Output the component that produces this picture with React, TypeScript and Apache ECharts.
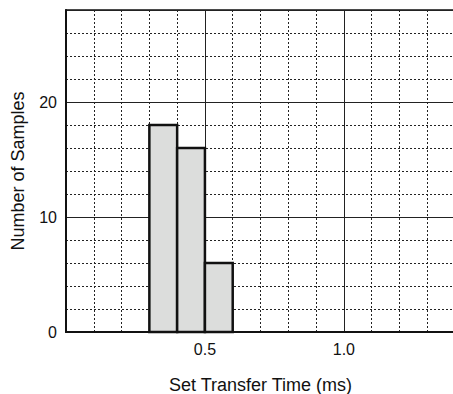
import React, { useEffect, useRef } from "react";
import * as echarts from "echarts";

const binStarts = [0.3, 0.4, 0.5];
const binEnds = [0.4, 0.5, 0.6];
const counts = [18, 16, 6];
const xTickLabels = ["0.5", "1.0"];
const yTickLabels = ["0", "10", "20"];

const FONT = "Liberation Sans, Arial, Helvetica, sans-serif";

export default function App() {
  const ref = useRef<HTMLDivElement>(null);
  useEffect(() => {
    if (!ref.current) return;
    const chart = echarts.init(ref.current, null, { renderer: "svg" });
    const data = counts.map((c, i) => [binStarts[i], binEnds[i], c]);
    const fmtX = (v: number) => {
      const s = v.toFixed(1);
      return xTickLabels.includes(s) ? s : "";
    };
    const fmtY = (v: number) => {
      const s = String(Math.round(v));
      return yTickLabels.includes(s) ? s : "";
    };
    chart.setOption({
      animation: false,
      grid: {
        left: 66,
        top: 10,
        right: -2,
        bottom: 62,
        show: true,
        borderColor: "#111",
        borderWidth: 1.5,
        containLabel: false,
        outerBoundsMode: "none",
      },
      xAxis: [
        {
          type: "value",
          min: 0,
          max: 1.4,
          interval: 0.5,
          position: "bottom",
          axisLine: { show: true, onZero: false, lineStyle: { color: "#111", width: 2 } },
          axisTick: { show: false },
          axisLabel: { color: "#111", fontSize: 16, fontFamily: FONT, margin: 9, formatter: fmtX },
          splitLine: { show: true, lineStyle: { color: "#222", width: 1, type: "solid" } },
          name: "Set Transfer Time (ms)",
          nameLocation: "middle",
          nameGap: 44,
          nameTextStyle: { color: "#111", fontSize: 18, fontFamily: FONT },
          z: 3,
        },
        {
          type: "value",
          min: 0,
          max: 1.4,
          interval: 0.1,
          position: "bottom",
          axisLine: { show: false },
          axisTick: { show: false },
          axisLabel: { show: false },
          splitLine: { show: true, lineStyle: { color: "#222", width: 1, type: [2, 2] } },
          z: 1,
        },
      ],
      yAxis: [
        {
          type: "value",
          min: 0,
          max: 28,
          interval: 10,
          position: "left",
          axisLine: { show: true, lineStyle: { color: "#111", width: 2 } },
          axisTick: { show: false },
          axisLabel: { color: "#111", fontSize: 16, fontFamily: FONT, margin: 9, formatter: fmtY },
          splitLine: { show: true, lineStyle: { color: "#222", width: 1, type: "solid" } },
          name: "Number of Samples",
          nameLocation: "middle",
          nameGap: 39,
          nameTextStyle: { color: "#111", fontSize: 18, fontFamily: FONT },
          z: 3,
        },
        {
          type: "value",
          min: 0,
          max: 28,
          interval: 2,
          position: "left",
          axisLine: { show: false },
          axisTick: { show: false },
          axisLabel: { show: false },
          splitLine: { show: true, lineStyle: { color: "#222", width: 1, type: [2, 2] } },
          z: 1,
        },
      ],
      series: [
        {
          type: "custom",
          xAxisIndex: 0,
          yAxisIndex: 0,
          z: 5,
          data,
          encode: { x: [0, 1], y: 2 },
          renderItem: (params: any, api: any) => {
            const p0 = api.coord([api.value(0), api.value(2)]);
            const p1 = api.coord([api.value(1), 0]);
            return {
              type: "rect",
              shape: { x: p0[0], y: p0[1], width: p1[0] - p0[0], height: p1[1] - p0[1] },
              style: { fill: "#dcdddc", stroke: "#111", lineWidth: 2.5 },
            };
          },
        },
      ],
    });
    return () => chart.dispose();
  }, []);
  return <div ref={ref} style={{ width: 453, height: 394, position: "absolute", left: 0, top: 0 }} />;
}
